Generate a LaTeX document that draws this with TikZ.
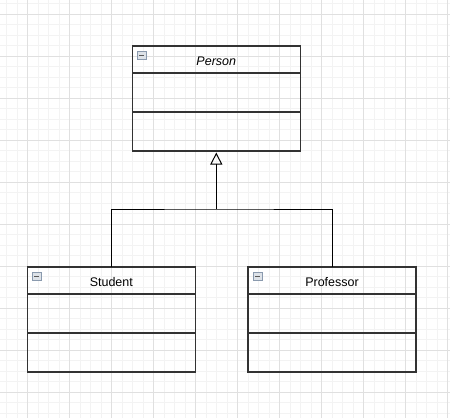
\documentclass[tikz,border=0pt]{standalone}
\usepackage{fontspec}
\setmainfont{Liberation Sans}
\usetikzlibrary{arrows.meta}
\definecolor{gridminor}{HTML}{F3F3F3}
\definecolor{gridmajor}{HTML}{E0E0E0}
\definecolor{boxline}{HTML}{333333}
\definecolor{iconfill}{HTML}{DDE2E8}
\definecolor{iconline}{HTML}{8A9AAE}
\tikzset{
  classhead/.style={draw=boxline, line width=1.1pt, minimum width=168pt, minimum height=27pt,
    inner sep=0pt, outer sep=0pt, text height=11pt, text depth=0pt,
    font=\fontsize{12.5}{14}\selectfont, text=black},
  classcomp/.style={draw=boxline, line width=1.1pt, minimum width=168pt, minimum height=39pt,
    inner sep=0pt, outer sep=0pt, anchor=north},
  conn/.style={draw=black, line width=1pt},
  iconbox/.style={draw=iconline, fill=iconfill, line width=0.7pt, minimum width=9pt, minimum height=8pt,
    inner sep=0pt, outer sep=0pt, anchor=north west},
}
\newcommand{\classicon}[2]{%
  \node[iconbox] (#2) at ([xshift=5pt,yshift=-5.5pt]#1.north west) {};
  \draw[line width=1.2pt, draw=black!65] ([xshift=-2.6pt]#2.center) -- ([xshift=2.6pt]#2.center);
}
\begin{document}
\begin{tikzpicture}[x=1pt,y=-1pt]
\useasboundingbox (0,0) rectangle (450,418);
% grid
\foreach \i in {0,...,43} {
  \draw[gridminor, line width=0.7pt] ({6.7+10.5*\i},0) -- ({6.7+10.5*\i},418);
}
\foreach \i in {0,...,39} {
  \draw[gridminor, line width=0.7pt] (0,{3.5+10.5*\i}) -- (450,{3.5+10.5*\i});
}
\foreach \i in {0,...,10} {
  \draw[gridmajor, line width=0.8pt] ({27.7+42*\i},0) -- ({27.7+42*\i},418);
}
\foreach \i in {0,...,9} {
  \draw[gridmajor, line width=0.8pt] (0,{14+42*\i}) -- (450,{14+42*\i});
}
% Person
\node[classhead] (person) at (216.3,59.5) {\itshape Person};
\node[classcomp] (personA) at (person.south) {};
\node[classcomp] (personB) at (personA.south) {};
\classicon{person}{personicon}
% Student
\node[classhead] (student) at (111.3,280.5) {Student};
\node[classcomp] (studentA) at (student.south) {};
\node[classcomp] (studentB) at (studentA.south) {};
\classicon{student}{studenticon}
% Professor
\node[classhead] (professor) at (332,280.5) {Professor};
\node[classcomp] (professorA) at (professor.south) {};
\node[classcomp] (professorB) at (professorA.south) {};
\classicon{professor}{professoricon}
% inheritance connectors
\coordinate (join) at (216.3,209);
\draw[conn] (student.north) |- (join) -| (professor.north);
\draw[conn, -{Triangle[open, length=12pt, width=12pt, line width=1pt]}, shorten >=1.5pt] (join) -- (personB.south);
\end{tikzpicture}
\end{document}
